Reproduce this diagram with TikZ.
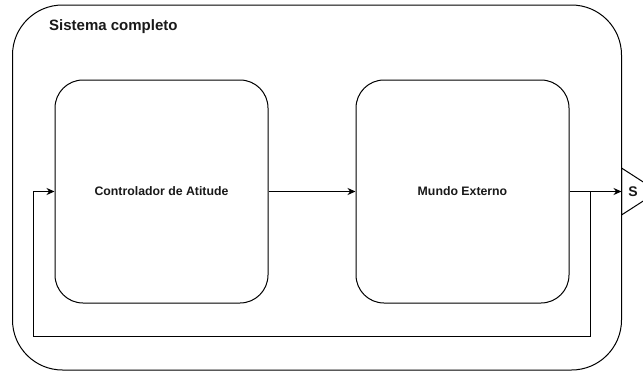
\documentclass[tikz,border=0pt]{standalone}
\usepackage{fontspec}
\setmainfont{Liberation Sans}
\usepackage{xcolor}
\definecolor{line-900}{RGB}{0,0,0}
\definecolor{text-900}{RGB}{25,25,25}
\usetikzlibrary{arrows.meta,positioning}

\begin{document}
\begin{tikzpicture}[
    x=1pt, y=-1pt,
    system box/.style={
        rounded corners=50pt,
        draw=line-900,
        line width=1pt,
        minimum width=609pt,
        minimum height=365pt,
        inner sep=0pt
    },
    block box/.style={
        rounded corners=28pt,
        draw=line-900,
        line width=1pt,
        fill=white,
        minimum width=213pt,
        minimum height=223pt,
        font=\bfseries\fontsize{12.3}{15}\selectfont,
        text=text-900,
        align=center
    },
    title text/.style={font=\bfseries\fontsize{15}{18}\selectfont, text=text-900, inner sep=0pt},
    arrow/.style={-{Stealth[length=8pt,width=7pt]}, line-900, line width=1pt}
]
\useasboundingbox (0,0) rectangle (643,372);
\clip (0,0) rectangle (643,372);

% === SYSTEM ===
\node[system box] (sistema) at (317,187.5) {};
\node[title text, anchor=west] (titulo) at (49,27) {Sistema completo};

% === BLOCKS ===
\node[block box] (ctrl) at (161.5,191.5) {Controlador de Atitude};
\node[block box, right=87pt of ctrl] (mundo) {Mundo Externo};

% === OUTPUT ===
\coordinate (saidaBase) at (621.5,191.5);
\draw[line-900, line width=1pt] (621.5,168) -- (658,191.5) -- (621.5,215) -- cycle;
\node[title text, font=\bfseries\fontsize{14}{17}\selectfont] (saida) at (633,192) {S};

% === ARROWS ===
\draw[arrow] (ctrl.east) -- (mundo.west);
\coordinate (ramo) at (590,191.5);
\draw[arrow] (mundo.east) -- (saidaBase);

% Feedback loop
\coordinate (fbDir) at (590,336.5);
\coordinate (fbEsq) at (33,336.5);
\draw[arrow] (ramo) -- (fbDir) -- (fbEsq) |- (ctrl.west);

\end{tikzpicture}
\end{document}
